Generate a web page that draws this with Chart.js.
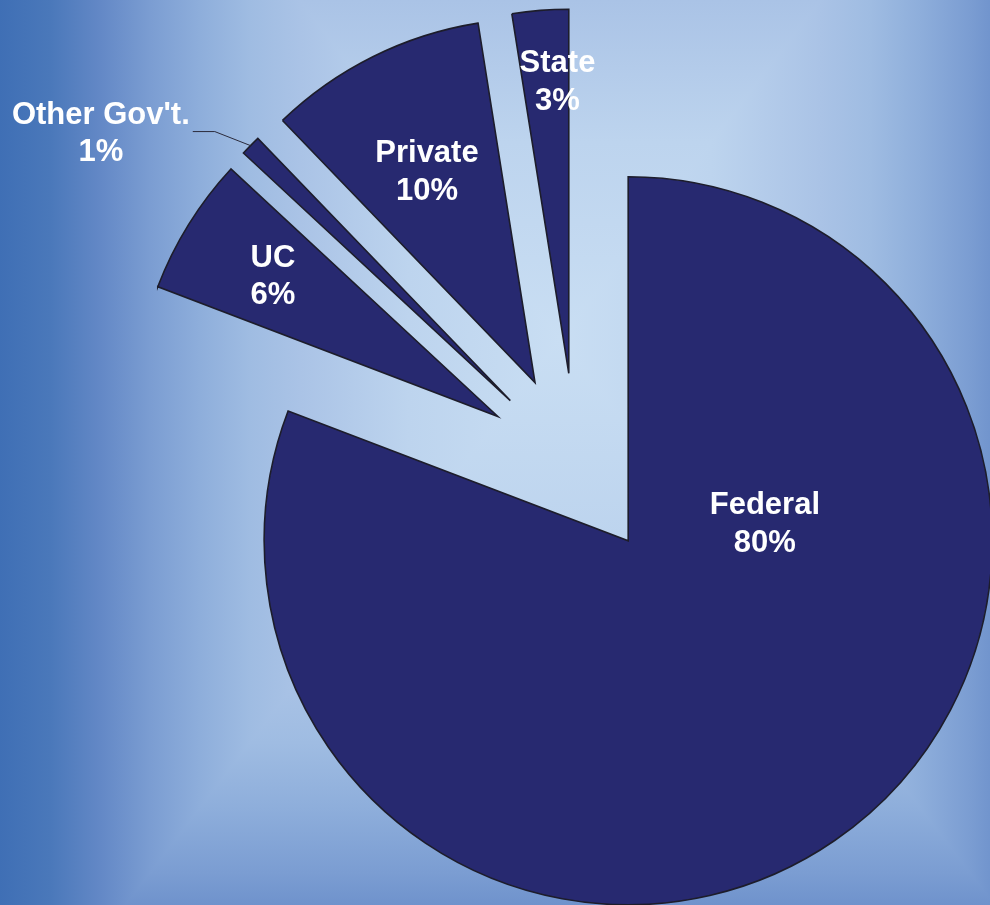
<!DOCTYPE html>
<html>
<head>
<meta charset="utf-8">
<script src="https://cdn.jsdelivr.net/npm/chart.js@4.4.1/dist/chart.umd.min.js"></script>
<style>
  html, body { margin: 0; padding: 0; overflow: hidden; background: #8eaedb; }
  #wrap { position: relative; width: 990px; height: 905px; }
</style>
</head>
<body>
<div id="wrap"><canvas id="c"></canvas></div>
<script>
// ---- data ----
const categories = ["Federal", "UC", "Other Gov't.", "Private", "State"];
const shares = [80.8, 6.1, 0.9, 9.7, 2.5];
const percentLabels = ["80%", "6%", "1%", "10%", "3%"];

// ---- style / placement (kept apart from the data) ----
const SLICE_COLOR = '#272970';
const EDGE_COLOR = '#1d1d2b';
const EXPLODE = 92;             // px each slice is pulled out along its bisector
const labelPlacement = [        // clock angle (deg, from 12 o'clock) and distance as share of radius
  { angle: 82.2,  dist: 0.379 },
  { angle: 302.3, dist: 0.731 },
  { angle: 303.3, dist: 1.346, leader: true },
  { angle: 333.1, dist: 0.656 },
  { angle: 357.8, dist: 0.806 }
];
const FONT_SIZE = 31;
const LINE_H = 37.5;

// rectangular "from centre" background gradient
const bgPlugin = {
  id: 'bg',
  beforeDraw(chart) {
    const ctx = chart.ctx;
    const W = chart.width, H = chart.height;
    const cx = 560, cy = 339, k = 1.302, S = 560, L = 4000;
    const stops = [
      [0.000, '#c9def3'],
      [0.270, '#bdd4ee'],
      [0.464, '#aac3e6'],
      [0.554, '#9fbce2'],
      [0.643, '#8eaedb'],
      [0.732, '#7b9dd2'],
      [0.821, '#6388c6'],
      [0.911, '#4a78ba'],
      [1.000, '#3f6fb5']
    ];
    const mk = (x0, y0, x1, y1) => {
      const g = ctx.createLinearGradient(x0, y0, x1, y1);
      stops.forEach(s => g.addColorStop(s[0], s[1]));
      return g;
    };
    ctx.save();
    // top half
    ctx.fillStyle = mk(cx, cy, cx, cy - S * k);
    ctx.fillRect(0, 0, W, cy);
    // bottom half
    ctx.fillStyle = mk(cx, cy, cx, cy + S * k);
    ctx.fillRect(0, cy, W, H - cy);
    // left wedge
    ctx.beginPath();
    ctx.moveTo(cx, cy); ctx.lineTo(cx - L, cy - L * k); ctx.lineTo(cx - L, cy + L * k); ctx.closePath();
    ctx.fillStyle = mk(cx, cy, cx - S, cy);
    ctx.fill();
    // right wedge
    ctx.beginPath();
    ctx.moveTo(cx, cy); ctx.lineTo(cx + L, cy - L * k); ctx.lineTo(cx + L, cy + L * k); ctx.closePath();
    ctx.fillStyle = mk(cx, cy, cx + S, cy);
    ctx.fill();
    ctx.restore();
  }
};

// pull every slice out along its own bisector (same distance for all)
const explodePlugin = {
  id: 'explode',
  beforeDatasetsDraw(chart) {
    const a = chart.chartArea;
    const cx = (a.left + a.right) / 2, cy = (a.top + a.bottom) / 2;
    chart.getDatasetMeta(0).data.forEach(arc => {
      const mid = (arc.startAngle + arc.endAngle) / 2;
      arc.x = cx + Math.cos(mid) * EXPLODE;
      arc.y = cy + Math.sin(mid) * EXPLODE;
    });
  }
};

// two-line white labels, one with a leader line
const labelPlugin = {
  id: 'sliceLabels',
  afterDatasetsDraw(chart) {
    const ctx = chart.ctx;
    const arcs = chart.getDatasetMeta(0).data;
    const capH = FONT_SIZE * 0.716;
    ctx.save();
    ctx.font = 'bold ' + FONT_SIZE + 'px "Liberation Sans", Arial, sans-serif';
    ctx.textAlign = 'center';
    ctx.textBaseline = 'alphabetic';
    arcs.forEach((arc, i) => {
      const p = labelPlacement[i];
      const ang = p.angle * Math.PI / 180;
      const R = arc.outerRadius;
      const lx = arc.x + Math.sin(ang) * p.dist * R;
      const ly = arc.y - Math.cos(ang) * p.dist * R;
      const b1 = ly - (capH + LINE_H) / 2 + capH;
      if (p.leader) {
        const w = ctx.measureText(categories[i]).width;
        const mid = (arc.startAngle + arc.endAngle) / 2;
        const ex = arc.x + Math.cos(mid) * R;
        const ey = arc.y + Math.sin(mid) * R;
        const sx = lx + w / 2 + 3;
        ctx.beginPath();
        ctx.moveTo(sx, ly);
        ctx.lineTo(sx + 22, ly);
        ctx.lineTo(ex, ey);
        ctx.strokeStyle = '#2b2b3c';
        ctx.lineWidth = 1;
        ctx.stroke();
      }
      ctx.fillStyle = '#ffffff';
      ctx.fillText(categories[i], lx, b1);
      ctx.fillText(percentLabels[i], lx, b1 + LINE_H);
    });
    ctx.restore();
  }
};

new Chart(document.getElementById('c'), {
  type: 'pie',
  data: {
    labels: categories,
    datasets: [{
      data: shares,
      backgroundColor: SLICE_COLOR,
      borderColor: EDGE_COLOR,
      borderWidth: 1.6,
      borderJoinStyle: 'miter',
      offset: 0,
      hoverOffset: 0
    }]
  },
  options: {
    responsive: true,
    maintainAspectRatio: false,
    animation: false,
    radius: 364,
    layout: { padding: { left: 162, top: 25, right: 0, bottom: 0 } },
    plugins: {
      legend: { display: false },
      tooltip: { enabled: false }
    },
    events: []
  },
  plugins: [bgPlugin, explodePlugin, labelPlugin]
});
</script>
</body>
</html>
